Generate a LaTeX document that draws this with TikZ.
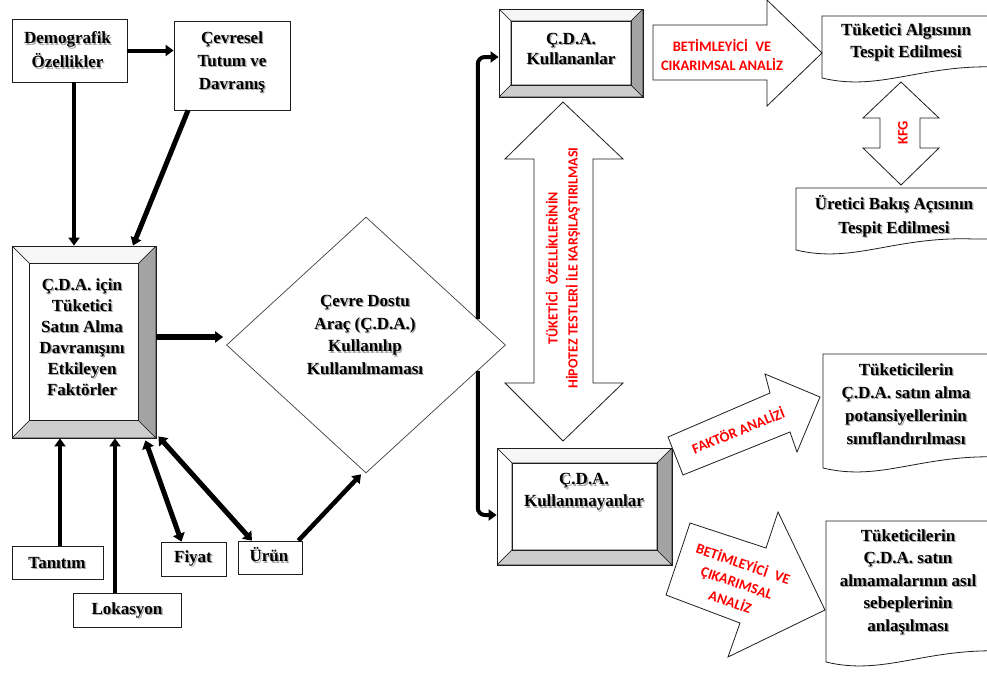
\documentclass[tikz,border=0pt]{standalone}
\usepackage{fontspec}
\setmainfont{Liberation Serif}
\newfontfamily\labelfont{Carlito}
\usetikzlibrary{arrows.meta,shapes.geometric}

\definecolor{bevtop}{HTML}{F6F6F6}
\definecolor{bevright}{HTML}{A3A3A3}
\definecolor{bevbottom}{HTML}{CDCDCD}
\definecolor{redlabel}{HTML}{FF0000}
\definecolor{edge}{HTML}{1E1E1E}
\definecolor{shadowgray}{HTML}{A8A8A8}

\tikzset{
  bodytext/.style={font=\bfseries\fontsize{17}{22}\selectfont, align=center, inner sep=0pt},
  box/.style={draw=edge, line width=0.8pt, fill=white, inner sep=0pt},
  redtext/.style={font=\labelfont\bfseries\fontsize{14.5}{19}\selectfont, text=redlabel, align=center, inner sep=0pt},
  conn/.style={line width=4.5pt, -{Triangle[length=8pt,width=11pt]}},
  biconn/.style={line width=5pt, {Triangle[length=8pt,width=12pt]}-{Triangle[length=8pt,width=12pt]}},
  blockarrow/.style={draw=edge, line width=0.8pt, fill=white, line join=miter},
  docline/.style={draw=edge, line width=0.8pt, fill=white},
  % raised frame: light top/left, grey bottom, darker right face
  bevelbox/.style={draw=edge, line width=0.8pt, fill=white, inner sep=0pt,
    path picture={
      \coordinate (bsw) at (path picture bounding box.south west);
      \coordinate (bse) at (path picture bounding box.south east);
      \coordinate (bne) at (path picture bounding box.north east);
      \coordinate (bnw) at (path picture bounding box.north west);
      \coordinate (isw) at ([shift={(#1,#1)}]bsw);
      \coordinate (ise) at ([shift={(-#1,#1)}]bse);
      \coordinate (ine) at ([shift={(-#1,-#1)}]bne);
      \coordinate (inw) at ([shift={(#1,-#1)}]bnw);
      \filldraw[fill=bevtop, draw=edge, line width=0.6pt] (bnw) -- (bne) -- (ine) -- (inw) -- cycle;
      \filldraw[fill=white, draw=edge, line width=0.6pt] (bnw) -- (inw) -- (isw) -- (bsw) -- cycle;
      \filldraw[fill=bevbottom, draw=edge, line width=0.6pt] (bsw) -- (bse) -- (ise) -- (isw) -- cycle;
      \filldraw[fill=bevright, draw=edge, line width=0.6pt] (bse) -- (bne) -- (ine) -- (ise) -- cycle;
      \draw[edge, line width=0.7pt] (isw) rectangle (ine);
    }},
}

% bold caption with a soft grey drop shadow; [options]{name}{x,y}{text}
\newcommand\shtext[4][]{%
  \node[bodytext,#1,text=shadowgray,xshift=1.3pt,yshift=-1.3pt] (#2-shadow) at (#3) {#4};
  \node[bodytext,#1] (#2) at (#3) {#4};}

% page-shaped box with a wavy lower edge; arguments: left x, top y, bottom-left y
\newcommand\docshape[3]{%
  \begin{scope}[shift={(#1,#3)}]
    \path[docline] (240,#2-#3) -- (0,#2-#3) -- (0,0)
      .. controls (58,14) and (98,-14) .. (178,-11) -- (240,-11);
  \end{scope}}

\begin{document}
\begin{tikzpicture}[x=1pt,y=-1pt]
  \useasboundingbox (0,0) rectangle (987,672);
  \fill[white] (0,0) rectangle (987,672);

  % ---------- left column ----------
  \node[box, minimum width=115pt, minimum height=63pt] (demo) at (69.5,50.5) {};
  \shtext[font=\bfseries\fontsize{17}{24}\selectfont]{demotext}{67.5,50}{Demografik\\Özellikler}
  \node[box, minimum width=116pt, minimum height=89pt] (cev) at (232,65.5) {};
  \shtext[font=\bfseries\fontsize{17}{23}\selectfont]{cevtext}{232,62}{Çevresel\\Tutum ve\\Davranış}

  \node[bevelbox=17.5pt, minimum width=144pt, minimum height=192pt] (fac) at (84,342) {};
  \shtext[font=\bfseries\fontsize{17}{21}\selectfont]{factext}{82,337}
    {Ç.D.A. için\\Tüketici\\Satın Alma\\Davranışını\\Etkileyen\\Faktörler}

  \node[box, minimum width=91pt, minimum height=33pt] (tan) at (57.5,562.5) {};
  \shtext{tantext}{57,563}{Tanıtım}
  \node[box, minimum width=108pt, minimum height=34pt] (lok) at (127,610) {};
  \shtext{loktext}{127,610}{Lokasyon}
  \node[box, minimum width=65pt, minimum height=34pt] (fiy) at (193.5,559) {};
  \shtext{fiytext}{193,558}{Fiyat}
  \node[box, minimum width=64pt, minimum height=33pt] (urun) at (270,557.5) {};
  \shtext{uruntext}{269,555}{Ürün}

  % ---------- decision ----------
  \node[diamond, draw=black!75, line width=0.7pt, fill=white, inner sep=0pt,
        minimum width=279pt, minimum height=256pt] (dia) at (366,345) {};
  \shtext[font=\bfseries\fontsize{17}{22.6}\selectfont]{diatext}{365,335}
    {Çevre Dostu\\Araç (Ç.D.A.)\\Kullanılıp\\Kullanılmaması}

  % ---------- user groups ----------
  \node[bevelbox=12pt, minimum width=144pt, minimum height=88pt] (kul) at (571,53) {};
  \shtext[font=\bfseries\fontsize{17}{20}\selectfont]{kultext}{571,49}{Ç.D.A.\\Kullananlar}
  \node[bevelbox=15pt, minimum width=175pt, minimum height=117pt] (kmy) at (584.5,506.5) {};
  \shtext{kmytext}{584,492}{Ç.D.A.\\Kullanmayanlar}

  % ---------- result documents ----------
  \docshape{822}{16}{78}
  \shtext{doc1}{906,42}{Tüketici Algısının\\Tespit Edilmesi}
  \docshape{796}{188}{250}
  \shtext[font=\bfseries\fontsize{17}{24}\selectfont]{doc2}{894,216}{Üretici Bakış Açısının\\Tespit Edilmesi}
  \docshape{823}{354}{468}
  \shtext[font=\bfseries\fontsize{17}{23}\selectfont]{doc3}{906,404}
    {Tüketicilerin\\Ç.D.A. satın alma\\potansiyellerinin\\sınıflandırılması}
  \docshape{826}{521}{662}
  \shtext[font=\bfseries\fontsize{17}{22.5}\selectfont]{doc4}{908,582}
    {Tüketicilerin\\Ç.D.A. satın\\almamalarının asıl\\sebeplerinin\\anlaşılması}

  % ---------- block arrows ----------
  \path[blockarrow] (653,25) -- (767,25) -- (767,0) -- (822,53) -- (767,106)
    -- (767,80) -- (653,80) -- cycle;
  \node[redtext] (lblA) at (722,55) {BETİMLEYİCİ\hspace{0.3em} VE\\CIKARIMSAL ANALİZ};

  \path[blockarrow] (563,102) -- (623,159) -- (593,159) -- (593,383) -- (623,383)
    -- (563,441) -- (505,383) -- (534,383) -- (534,159) -- (505,159) -- cycle;
  \node[redtext, rotate=90, font=\labelfont\bfseries\fontsize{14}{20}\selectfont] (lblHyp) at (563,268)
    {TÜKETİCİ\hspace{0.3em} ÖZELLİKLERİNİN\\HİPOTEZ TESTLERİ İLE KARŞILAŞTIRILMASI};

  \path[blockarrow] (901,82) -- (939,118) -- (920,118) -- (920,148) -- (939,148)
    -- (901,185) -- (863,148) -- (880,148) -- (880,118) -- (863,118) -- cycle;
  \node[redtext, rotate=90] (lblKfg) at (903,133) {KFG};

  \path[blockarrow] (668,437) -- (770,393) -- (765,374) -- (820,397) -- (797,452)
    -- (790,432) -- (683,475) -- cycle;
  \node[redtext, rotate=22] (lblFak) at (738,430) {FAKTÖR ANALİZİ};

  \path[blockarrow] (690,523) -- (766,548) -- (778,512) -- (825,610) -- (728,657)
    -- (740,623) -- (666,595) -- cycle;
  \node[redtext, rotate=-19, font=\labelfont\bfseries\fontsize{14.5}{20}\selectfont] (lblBet) at (737,582)
    {BETİMLEYİCİ\hspace{0.3em} VE\\ÇIKARIMSAL\\ANALİZ};

  % ---------- connectors ----------
  \draw[conn, line width=4pt] (demo.east) -- (demo.east -| cev.west);
  \draw[conn, line width=4pt] ([xshift=4.5pt]demo.south) -- ([xshift=4.5pt]demo.south |- fac.north);
  \draw[conn, line width=5pt] ([xshift=-44pt]cev.south) -- ([xshift=49pt]fac.north);
  \draw[conn, line width=6pt, shorten >=3pt] ([yshift=5pt]fac.east) -- ([yshift=5pt]fac.east -| dia.west);

  \draw[conn] ([xshift=2.5pt]tan.north) -- ([xshift=2.5pt]tan.north |- fac.south);
  \draw[conn] ([xshift=-12pt]lok.north) -- ([xshift=-12pt]lok.north |- fac.south);
  \draw[biconn] ([xshift=-12pt]fiy.north) -- ([xshift=-11pt,yshift=-2pt]fac.south east);
  \draw[biconn] ([xshift=-18pt]urun.north) -- ([xshift=2pt,yshift=2pt]fac.south east);
  \draw[conn] ([xshift=-4pt]urun.north east) -- ([xshift=-5pt,yshift=-1pt]dia.south);

  \draw[conn, line width=4pt, rounded corners=7pt] (dia.13.6) |- ([yshift=-4pt]kul.west);
  \draw[conn, line width=4pt, rounded corners=7pt] (dia.-13.6) |- ([yshift=-8.5pt]kmy.west);
\end{tikzpicture}
\end{document}
